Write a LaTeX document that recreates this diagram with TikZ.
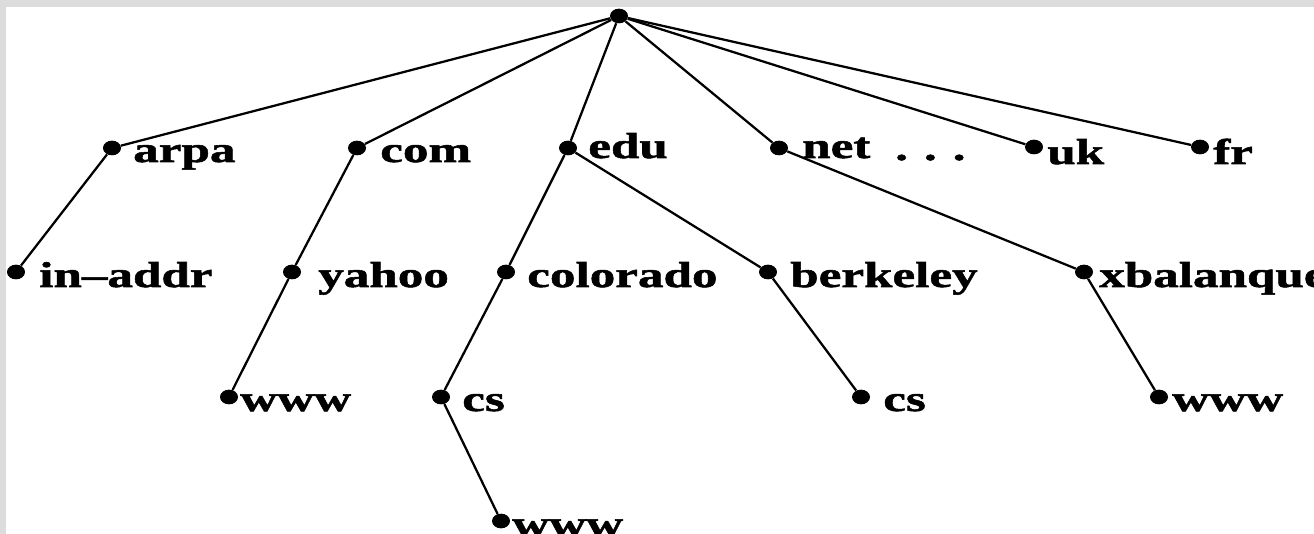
\documentclass[tikz,border=0pt]{standalone}
\usepackage{fontspec}
\usetikzlibrary{shapes.geometric}
\newfontfamily\lblfont[FakeStretch=1.42,FakeBold=1.5]{Liberation Serif Bold}
\definecolor{framegray}{HTML}{DCDCDC}
\begin{document}
\begin{tikzpicture}[x=0.75pt,y=-0.75pt,
  dot/.style={ellipse,fill=black,inner sep=0pt,minimum width=13.5pt,minimum height=11pt},
  lbl/.style={anchor=base west,inner sep=0pt,font=\lblfont\fontsize{27pt}{30pt}\selectfont},
  edge/.style={line width=1.7pt}]
\useasboundingbox (0,0) rectangle (1314,534);
\fill[framegray] (0,0) rectangle (1314,7);
\fill[framegray] (0,0) rectangle (6,534);
% dots
\node[dot] (root) at (619,16) {};
\node[dot] (arpa) at (112,148) {};
\node[dot] (com) at (357,148) {};
\node[dot] (edu) at (568,148) {};
\node[dot] (net) at (779,148) {};
\node[dot] (uk) at (1034,147) {};
\node[dot] (fr) at (1200,147) {};
\node[dot] (inaddr) at (16,272) {};
\node[dot] (yahoo) at (292,272) {};
\node[dot] (colorado) at (506,272) {};
\node[dot] (berkeley) at (768,272) {};
\node[dot] (xbal) at (1084,272) {};
\node[dot] (ywww) at (229,397) {};
\node[dot] (ccs) at (441,397) {};
\node[dot] (bcs) at (861,397) {};
\node[dot] (xwww) at (1159,397) {};
\node[dot] (cwww) at (501,521) {};
% edges
\foreach \c in {arpa,com,edu,net,uk,fr} \draw[edge] (root) -- (\c);
\draw[edge] (arpa) -- (inaddr);
\draw[edge] (com) -- (yahoo);
\draw[edge] (yahoo) -- (ywww);
\draw[edge] (edu) -- (colorado);
\draw[edge] (edu) -- (berkeley);
\draw[edge] (colorado) -- (ccs);
\draw[edge] (ccs) -- (cwww);
\draw[edge] (berkeley) -- (bcs);
\draw[edge] (net) -- (xbal);
\draw[edge] (xbal) -- (xwww);
% labels
\node[lbl] (l-arpa) at (133,162) {arpa};
\node[lbl] (l-com) at (380,162) {com};
\node[lbl] (l-edu) at (588,158) {edu};
\node[lbl] (l-net) at (802,158) {net};
\node[lbl] (l-dots) at (895,160) {.\hspace{12pt}.\hspace{12pt}.};
\node[lbl] (l-uk) at (1047,164) {uk};
\node[lbl] (l-fr) at (1213,164) {fr};
\node[lbl] (l-inaddr) at (39,287) {in–addr};
\node[lbl] (l-yahoo) at (318,287) {yahoo};
\node[lbl] (l-colorado) at (527,287) {colorado};
\node[lbl] (l-berkeley) at (790,287) {berkeley};
\node[lbl] (l-xbal) at (1099,287) {xbalanque};
\node[lbl] (l-ywww) at (240,411) {www};
\node[lbl] (l-ccs) at (462,411) {cs};
\node[lbl] (l-bcs) at (883,411) {cs};
\node[lbl] (l-xwww) at (1172,411) {www};
\node[lbl] (l-cwww) at (512,536) {www};
\end{tikzpicture}
\end{document}
